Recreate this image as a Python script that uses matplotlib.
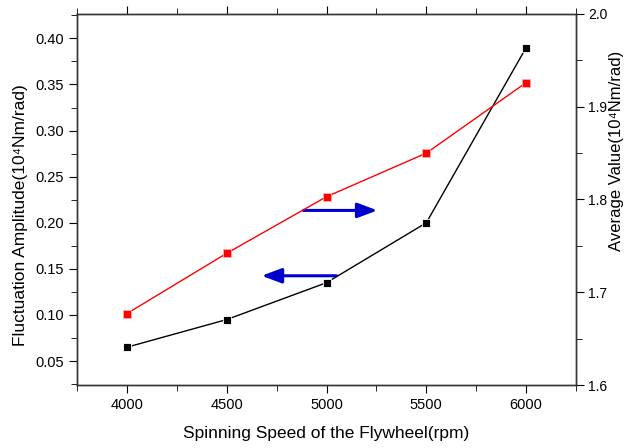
import numpy as np
import matplotlib.pyplot as plt
from matplotlib.ticker import MultipleLocator

plt.rcParams['font.family'] = ['Liberation Sans', 'DejaVu Sans']

speed = [4000, 4500, 5000, 5500, 6000]
fluct_amp = [0.065, 0.095, 0.135, 0.200, 0.390]
avg_value = [1.677, 1.742, 1.803, 1.850, 1.926]

fig = plt.figure(figsize=(6.27, 4.48), dpi=100)
ax = fig.add_axes([0.1228, 0.1406, 0.7959, 0.8282])
ax2 = ax.twinx()

ax.plot(speed, fluct_amp, color='black', lw=1, marker='s', ms=6,
        mfc='black', mec='white', mew=0.6, zorder=3)
ax2.plot(speed, avg_value, color='red', lw=1, marker='s', ms=6,
         mfc='red', mec='#ffaaaa', mew=0.6, zorder=3)

ax.set_xlim(3750, 6250)
ax.set_ylim(0.024, 0.4265)
ax2.set_ylim(1.6, 2.0)

ax.xaxis.set_major_locator(MultipleLocator(500))
ax.xaxis.set_minor_locator(MultipleLocator(250))
ax.yaxis.set_major_locator(MultipleLocator(0.05))
ax.yaxis.set_minor_locator(MultipleLocator(0.025))
ax2.yaxis.set_major_locator(MultipleLocator(0.1))
ax2.yaxis.set_minor_locator(MultipleLocator(0.05))
ax.yaxis.set_major_formatter(plt.FormatStrFormatter('%.2f'))
ax2.yaxis.set_major_formatter(plt.FormatStrFormatter('%.1f'))

ax.tick_params(axis='x', which='both', direction='out', top=True, labelsize=10.5)
ax.tick_params(axis='x', which='major', length=6)
ax.tick_params(axis='x', which='minor', length=4)
ax.tick_params(axis='y', which='major', direction='out', length=6, labelsize=10.5)
ax.tick_params(axis='y', which='minor', direction='out', length=4)
ax2.tick_params(axis='y', which='major', direction='out', length=6, labelsize=10, pad=2.5)
ax2.tick_params(axis='y', which='minor', direction='out', length=4)

for a in (ax, ax2):
    for s in a.spines.values():
        s.set_color('#333333')
        s.set_linewidth(1.0)

ax.set_xlabel('Spinning Speed of the Flywheel(rpm)', fontsize=12.5, labelpad=10)
ax.set_ylabel('Fluctuation Amplitude(10⁴Nm/rad)', fontsize=12.5)
ax.yaxis.set_label_coords(-0.098, 0.458)
ax2.set_ylabel('Average Value(10⁴Nm/rad)', fontsize=12)
ax2.yaxis.set_label_coords(1.066, 0.63)

arrow_kw = dict(arrowstyle='-|>,head_length=1.2,head_width=0.45', color='#0000cc',
                lw=2.2, shrinkA=0, shrinkB=0)
ax.annotate('', xy=(5255, 0.2134), xytext=(4885, 0.2134), arrowprops=arrow_kw, zorder=4)
ax.annotate('', xy=(4675, 0.1425), xytext=(5050, 0.1425), arrowprops=arrow_kw, zorder=4)

fig.savefig('out.png', dpi=100)
